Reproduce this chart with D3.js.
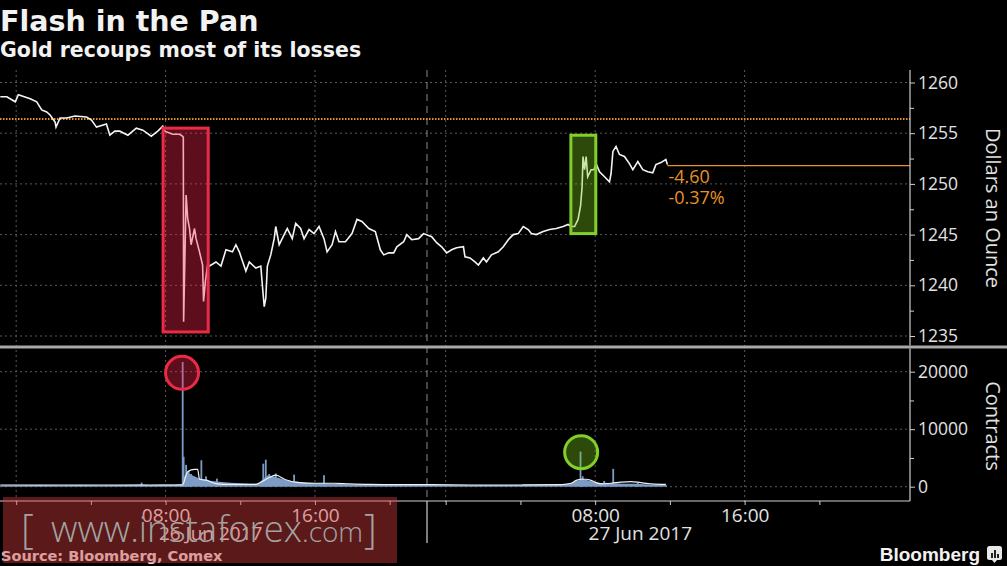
<!DOCTYPE html>
<html><head><meta charset="utf-8">
<script src="https://cdn.jsdelivr.net/npm/d3@7"></script>
<style>html,body{margin:0;padding:0;background:#000;} svg{display:block}</style>
</head><body>
<svg id="chart" width="1007" height="566"></svg>
<script>
// ---------- DATA ----------
const priceTimes = ["25 23:09","25 23:30","25 23:57","26 00:07","26 00:45","26 01:06","26 01:22","26 01:38","26 01:49","26 02:05","26 02:08","26 02:21","26 02:42","26 03:09","26 03:46","26 04:02","26 04:18","26 04:50","26 05:01","26 05:17","26 05:33","26 05:59","26 06:26","26 06:47","26 07:14","26 07:35","26 07:51","26 07:57","26 08:23","26 08:45","26 08:55","26 08:57","26 08:58","26 09:06","26 09:11","26 09:17","26 09:22","26 09:33","26 09:38","26 09:49","26 09:59","26 10:02","26 10:08","26 10:15","26 10:21","26 10:42","26 10:58","26 11:14","26 11:35","26 11:46","26 11:57","26 12:18","26 12:29","26 12:50","26 13:06","26 13:11","26 13:17","26 13:22","26 13:27","26 13:38","26 13:49","26 13:54","26 14:05","26 14:21","26 14:31","26 14:47","26 14:58","26 15:14","26 15:25","26 15:41","26 15:57","26 16:13","26 16:29","26 16:39","26 16:55","26 17:06","26 17:17","26 17:38","26 17:59","26 18:15","26 18:31","26 18:53","26 19:14","26 19:30","26 19:41","26 19:57","26 20:13","26 20:23","26 20:45","26 20:55","26 21:11","26 21:33","26 21:49","26 23:15","26 23:31","26 23:47","27 00:03","27 00:19","27 00:35","27 00:57","27 01:02","27 01:18","27 01:34","27 01:45","27 02:01","27 02:11","27 02:27","27 02:49","27 03:05","27 03:21","27 03:37","27 03:53","27 04:09","27 04:25","27 04:35","27 04:51","27 05:13","27 05:34","27 05:55","27 06:17","27 06:33","27 06:43","27 06:54","27 07:05","27 07:13","27 07:18","27 07:21","27 07:26","27 07:31","27 07:36","27 07:47","27 07:56","27 08:03","27 08:14","27 08:30","27 08:46","27 08:51","27 08:57","27 09:07","27 09:18","27 09:34","27 09:50","27 10:01","27 10:17","27 10:33","27 10:49","27 11:05","27 11:15","27 11:31","27 11:47","27 11:52"];
const priceValues = [1258.6,1258.6,1258.1,1258.8,1258.4,1258.1,1257.3,1257.1,1256.8,1256.1,1255.6,1256.5,1256.5,1256.7,1256.6,1256.3,1255.6,1255.9,1254.8,1255.2,1255.2,1254.8,1255.5,1255.3,1254.7,1255.2,1255.7,1255.2,1254.9,1254.9,1254.7,1254.6,1236.4,1248.9,1246.6,1245.6,1244.0,1245.6,1244.6,1243.3,1242.0,1238.4,1240.4,1242.0,1241.9,1242.3,1241.9,1243.5,1243.3,1244.0,1243.3,1241.4,1242.3,1241.7,1241.9,1240.0,1237.9,1238.7,1241.9,1243.0,1244.6,1245.8,1244.0,1245.0,1245.6,1244.6,1246.1,1245.6,1244.6,1245.5,1245.1,1245.8,1244.6,1243.3,1244.0,1245.3,1244.3,1244.3,1245.1,1246.5,1246.3,1245.6,1245.3,1243.5,1243.0,1243.2,1243.2,1243.8,1244.3,1245.0,1244.5,1244.6,1245.1,1244.8,1244.2,1243.8,1243.2,1243.5,1243.7,1243.8,1242.8,1242.7,1242.3,1242.0,1242.7,1242.3,1243.0,1243.3,1243.8,1244.5,1245.0,1245.1,1245.8,1245.5,1245.1,1245.0,1245.3,1245.5,1245.6,1245.8,1246.0,1245.8,1245.8,1246.5,1247.8,1249.7,1252.7,1251.4,1252.7,1250.7,1251.4,1251.4,1252.0,1251.2,1250.7,1250.2,1251.0,1253.2,1253.7,1252.9,1252.7,1252.0,1251.4,1252.2,1251.4,1251.2,1251.1,1251.9,1252.1,1252.4,1251.9];

const volBaseTimes = ["25 23:09","26 00:13","26 01:17","26 02:21","26 03:25","26 04:29","26 05:33","26 06:43","26 07:09","26 07:50","26 08:29","26 08:55","26 08:56","26 09:10","26 09:25","26 09:45","26 10:05","26 10:30","26 11:00","26 11:30","26 12:00","26 12:30","26 13:00","26 13:15","26 13:30","26 13:45","26 14:05","26 14:30","26 15:00","26 15:30","26 16:00","26 16:30","26 17:00","26 18:00","26 19:00","26 20:00","26 21:00","26 21:59","26 23:00","27 00:30","27 02:00","27 03:30","27 05:00","27 06:00","27 06:40","27 07:00","27 07:15","27 07:30","27 07:50","27 08:10","27 08:30","27 09:00","27 09:30","27 10:15","27 11:00","27 11:50"];
const volBaseValues = [200,250,300,250,300,250,300,400,300,400,400,500,1500,2500,2000,1500,1200,1000,800,700,600,500,500,1500,2000,1800,1500,1100,900,700,600,600,500,400,350,300,300,300,300,250,300,300,350,400,600,1000,1300,1200,900,600,700,600,500,500,350,300];

const volSpikeTimes = ["26 06:43","26 08:55","26 08:58","26 09:06","26 09:14","26 09:22","26 09:55","26 10:10","26 10:45","26 13:14","26 13:22","26 13:33","26 13:54","26 14:53","26 16:29","27 07:13","27 07:20","27 08:29","27 08:58","27 10:17"];
const volSpikeValues = [700,21700,5200,3800,2800,2200,4600,1800,1400,4000,4700,2200,2300,2100,2000,6100,1800,1000,3100,700];

const maTimes = ["25 23:09","26 08:55","26 09:03","26 09:11","26 09:33","26 09:43","26 09:49","26 10:14","26 10:21","26 10:46","26 11:25","26 12:50","26 13:10","26 13:30","26 13:54","26 14:26","26 15:09","26 16:02","26 17:01","26 17:49","26 18:53","26 20:29","26 21:46","26 23:15","27 01:23","27 04:03","27 06:11","27 06:43","27 06:59","27 07:15","27 07:31","27 07:47","27 08:03","27 08:19","27 08:51","27 09:23","27 09:55","27 10:27","27 10:59","27 11:47"];
const maValues = [300,300,1500,2600,3000,3000,1300,1100,900,500,400,400,900,1500,2000,1200,700,600,600,500,400,350,350,350,300,300,350,600,1100,1300,1300,1100,700,500,600,800,900,700,500,400];

const priceTicks = [1235,1240,1245,1250,1255,1260];
const priceMinorTicks = [1237.5,1242.5,1247.5,1252.5,1257.5];
const volTicks = [0,10000,20000];
const volMinorTicks = [5000,15000];
const timeTicks = ["26 00:00","26 04:00","26 08:00","26 12:00","26 16:00","26 20:00","27 00:00","27 04:00","27 08:00","27 12:00","27 16:00","27 20:00"];
const gridTimes = ["26 00:00","26 08:00","26 16:00","27 00:00","27 08:00","27 16:00"];
const labelTimes = ["26 08:00","26 16:00","27 08:00","27 16:00"];
const dateLabels = ["26 Jun 2017","27 Jun 2017"];
const dateLabelTimes = ["26 10:25","27 10:25"];
const sessionBreak = "26 22:00";
const prevClose = 1256.4;
const lastPrice = 1251.8;
const changeLabels = ["-4.60","-0.37%"];
// highlight annotations: [startTime, endTime, topPrice, bottomPrice]
const redBox = ["26 07:52","26 10:17",1255.5,1235.4];
const greenBox = ["27 06:42","27 08:02",1254.8,1245.1];
// circles: [time, volume]
const redCircle = ["26 08:53",19800];
const greenCircle = ["27 07:15",6000];

// ---------- SETUP ----------
const parseT = s => d3.utcParse("%Y-%m-%d %H:%M")("2017-06-" + s);
const svg = d3.select("#chart");
const W = 1007, H = 566;
const axisX = 910;

const x = d3.scaleUtc()
  .domain([parseT("25 23:08"), parseT("26 22:00"), parseT("26 23:00"), parseT("28 00:51")])
  .range([0, 427, 427, axisX]);
const yP = d3.scaleLinear().domain([1235,1260]).range([336,82.5]);
const yV = d3.scaleLinear().domain([0,20000]).range([486.7,371.7]);

const gridCol = "#5a5a5a";
const axisCol = "#cfcfcf";
const labelCol = "#e2e2e2";
const orange = "#e8922a";
const tickFont = "'Open Sans', sans-serif";

svg.append("rect").attr("width",W).attr("height",H).attr("fill","#000");

// horizontal grid (price)
svg.append("g").selectAll("line").data(priceTicks).join("line")
  .attr("x1",0).attr("x2",axisX).attr("y1",d=>yP(d)).attr("y2",d=>yP(d))
  .attr("stroke",gridCol).attr("stroke-width",1).attr("stroke-dasharray","2,3");
// horizontal grid (volume)
svg.append("g").selectAll("line").data(volTicks).join("line")
  .attr("x1",0).attr("x2",axisX).attr("y1",d=>yV(d)).attr("y2",d=>yV(d))
  .attr("stroke",gridCol).attr("stroke-width",1).attr("stroke-dasharray","2,3");
// vertical grid
svg.append("g").selectAll("line").data(gridTimes).join("line")
  .attr("x1",d=>x(parseT(d))).attr("x2",d=>x(parseT(d)))
  .attr("y1",70).attr("y2",504)
  .attr("stroke",gridCol).attr("stroke-width",1).attr("stroke-dasharray","2,3");
// session break dashed
const xb = x(parseT(sessionBreak));
svg.append("line").attr("x1",xb).attr("x2",xb).attr("y1",70).attr("y2",500)
  .attr("stroke","#8a8a8a").attr("stroke-width",1).attr("stroke-dasharray","7,5");

// previous close dotted orange
svg.append("line").attr("x1",0).attr("x2",axisX).attr("y1",yP(prevClose)).attr("y2",yP(prevClose))
  .attr("stroke",orange).attr("stroke-width",2).attr("stroke-dasharray","1.5,1.5");

// price line
const pdata = priceTimes.map((t,i)=>({t:parseT(t), v:priceValues[i]}));
svg.append("path").datum(pdata)
  .attr("d", d3.line().x(d=>x(d.t)).y(d=>yP(d.v)))
  .attr("fill","none").attr("stroke","#f4f4f4").attr("stroke-width",1.6).attr("stroke-linejoin","miter");

// last price orange line
const lastT = pdata[pdata.length-1].t;
svg.append("line").attr("x1",x(lastT)).attr("x2",axisX).attr("y1",yP(lastPrice)).attr("y2",yP(lastPrice))
  .attr("stroke",orange).attr("stroke-width",1.3);
svg.selectAll("text.chg").data(changeLabels).join("text").attr("class","chg")
  .attr("x",x(lastT)+1).attr("y",(d,i)=>183+i*21)
  .attr("fill",orange).attr("font-family",tickFont).attr("font-size",18).text(d=>d);

// volume base area
const vb = volBaseTimes.map((t,i)=>({t:parseT(t), v:volBaseValues[i]}));
svg.append("path").datum(vb)
  .attr("d", d3.area().x(d=>x(d.t)).y0(yV(0)).y1(d=>yV(d.v)))
  .attr("fill","#7c9cc6");
// volume spikes
const vs = volSpikeTimes.map((t,i)=>({t:parseT(t), v:volSpikeValues[i]}));
svg.append("g").selectAll("rect").data(vs).join("rect")
  .attr("x",d=>x(d.t)-0.9).attr("width",1.8)
  .attr("y",d=>yV(d.v)).attr("height",d=>yV(0)-yV(d.v))
  .attr("fill","#7c9cc6");
// moving average line
const ma = maTimes.map((t,i)=>({t:parseT(t), v:maValues[i]}));
svg.append("path").datum(ma)
  .attr("d", d3.line().curve(d3.curveMonotoneX).x(d=>x(d.t)).y(d=>yV(d.v)))
  .attr("fill","none").attr("stroke","#f0f0f0").attr("stroke-width",1.2);

// highlight boxes
function box(b, stroke, fill) {
  const x0 = x(parseT(b[0])), x1 = x(parseT(b[1]));
  const y0 = yP(b[2]), y1 = yP(b[3]);
  svg.append("rect").attr("x",x0).attr("y",y0).attr("width",x1-x0).attr("height",y1-y0)
    .attr("fill",fill).attr("stroke",stroke).attr("stroke-width",3);
}
box(redBox, "#ec2a45", "rgba(255,40,80,0.36)");
box(greenBox, "#82cf2a", "rgba(126,205,30,0.36)");
function circ(c, stroke, fill) {
  svg.append("circle").attr("cx",x(parseT(c[0]))).attr("cy",yV(c[1])).attr("r",16.5)
    .attr("fill",fill).attr("stroke",stroke).attr("stroke-width",3);
}
circ(redCircle, "#ec2a45", "rgba(255,40,80,0.36)");
circ(greenCircle, "#82cf2a", "rgba(126,205,30,0.36)");

// separator between panels
svg.append("rect").attr("x",0).attr("y",345.5).attr("width",W).attr("height",3).attr("fill","#a8a8a8");

// right axis lines
svg.append("line").attr("x1",axisX).attr("x2",axisX).attr("y1",70).attr("y2",345.5).attr("stroke",axisCol).attr("stroke-width",1.2);
svg.append("line").attr("x1",axisX).attr("x2",axisX).attr("y1",348.5).attr("y2",501).attr("stroke",axisCol).attr("stroke-width",1.2);
// bottom axis line
svg.append("line").attr("x1",0).attr("x2",axisX).attr("y1",501).attr("y2",501).attr("stroke",axisCol).attr("stroke-width",1.2);

function styleAxis(g){
  g.select(".domain").remove();
  g.selectAll(".tick line").attr("stroke",axisCol);
  g.selectAll(".tick text").attr("fill",labelCol).attr("font-family",tickFont);
}
// price axis
svg.append("g").attr("transform",`translate(${axisX},0)`)
  .call(d3.axisRight(yP).tickValues(priceTicks).tickSize(5).tickPadding(3).tickFormat(d3.format("d")))
  .call(styleAxis).call(g=>g.selectAll(".tick text").attr("font-size",17.5));
svg.append("g").attr("transform",`translate(${axisX},0)`)
  .call(d3.axisRight(yP).tickValues(priceMinorTicks).tickSize(4).tickFormat(""))
  .call(styleAxis);
// volume axis
svg.append("g").attr("transform",`translate(${axisX},0)`)
  .call(d3.axisRight(yV).tickValues(volTicks).tickSize(5).tickPadding(3).tickFormat(d3.format("d")))
  .call(styleAxis).call(g=>g.selectAll(".tick text").attr("font-size",17.5));
svg.append("g").attr("transform",`translate(${axisX},0)`)
  .call(d3.axisRight(yV).tickValues(volMinorTicks).tickSize(4).tickFormat(""))
  .call(styleAxis);
// time axis
const labelSet = new Set(labelTimes);
svg.append("g").attr("transform","translate(0,501)")
  .call(d3.axisBottom(x).tickValues(timeTicks.map(parseT)).tickSize(4).tickPadding(4)
    .tickFormat((d,i)=> labelSet.has(timeTicks[i]) ? d3.utcFormat("%H:%M")(d) : ""))
  .call(styleAxis).call(g=>g.selectAll(".tick text").attr("font-size",19));
// day separator tick
svg.append("line").attr("x1",xb).attr("x2",xb).attr("y1",501).attr("y2",543).attr("stroke",axisCol).attr("stroke-width",1.2);
// date labels
svg.selectAll("text.date").data(dateLabels).join("text").attr("class","date")
  .attr("x",(d,i)=>x(parseT(dateLabelTimes[i]))).attr("y",540).attr("text-anchor","middle")
  .attr("fill",labelCol).attr("font-family",tickFont).attr("font-size",19).text(d=>d);

// axis titles
svg.append("text").attr("transform","translate(986,208) rotate(90)").attr("text-anchor","middle")
  .attr("fill",labelCol).attr("font-family",tickFont).attr("font-size",20).text("Dollars an Ounce");
svg.append("text").attr("transform","translate(986,426) rotate(90)").attr("text-anchor","middle")
  .attr("fill",labelCol).attr("font-family",tickFont).attr("font-size",20).text("Contracts");

// titles
svg.append("text").attr("x",0).attr("y",31).attr("fill","#f2f2f2")
  .attr("font-family","'DejaVu Sans', sans-serif").attr("font-weight","bold").attr("font-size",28.5).text("Flash in the Pan");
svg.append("text").attr("x",0).attr("y",57).attr("fill","#f2f2f2")
  .attr("font-family","'DejaVu Sans', sans-serif").attr("font-weight","bold").attr("font-size",20.5).text("Gold recoups most of its losses");
svg.append("text").attr("x",1).attr("y",561).attr("fill","#e0e0e0")
  .attr("font-family","'DejaVu Sans', sans-serif").attr("font-weight","bold").attr("font-size",14.5).text("Source: Bloomberg, Comex");

// Bloomberg logo
svg.append("text").attr("x",980).attr("y",561).attr("text-anchor","end").attr("fill","#f2f2f2")
  .attr("font-family","'Liberation Sans', sans-serif").attr("font-weight","bold").attr("font-size",19).text("Bloomberg");
const lg = svg.append("g").attr("transform","translate(987,546)");
lg.append("rect").attr("width",15).attr("height",14).attr("rx",2.5).attr("fill","#e8e8e8");
lg.append("path").attr("d","M5,14 L7.5,17 L10,14 Z").attr("fill","#e8e8e8");
[[4,7,2,5],[7,4,2,8],[10,8,2,4]].forEach(b=>lg.append("rect").attr("x",b[0]).attr("y",b[1]).attr("width",b[2]).attr("height",b[3]).attr("fill","#222"));

// watermark overlay
svg.append("rect").attr("x",3).attr("y",497).attr("width",394).attr("height",66).attr("fill","rgba(220,60,60,0.41)");
const wmStyle = t => t.attr("fill","#a3a3a3").attr("font-family","'Open Sans', sans-serif").attr("font-weight",300);
svg.append("text").attr("x",21).attr("y",543).attr("font-size",40).call(wmStyle).text("[");
const wm = svg.append("text").attr("x",51).attr("y",542).call(wmStyle);
wm.append("tspan").attr("font-size",36.5).text("www.instaforex");
wm.append("tspan").attr("font-size",28).text(".com");
svg.append("text").attr("x",364).attr("y",543).attr("font-size",40).call(wmStyle).text("]");
</script>
</body></html>
